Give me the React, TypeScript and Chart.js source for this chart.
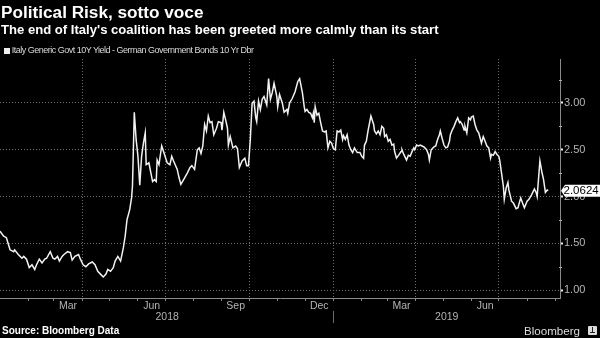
import React, { useEffect, useRef } from 'react';
import { Chart, registerables } from 'chart.js';

Chart.register(...registerables);

// x values: days since 1 Jan 2018
const days = [
  0, 4, 7, 11, 15, 16, 20, 24, 26, 29, 32, 35, 38, 40, 43, 46, 49, 51, 55, 58,
  60, 63, 65, 68, 70, 74, 77, 79, 82, 86, 88, 91, 94, 97, 101, 104, 107, 110, 113, 116,
  118, 121, 124, 126, 129, 132, 135, 137, 139, 142, 144, 145,
  147, 149, 151, 153, 155, 157, 159, 160, 163, 164, 167, 169, 171, 172, 174, 177, 179, 183, 186, 188,
  190, 194, 196, 198, 201, 205, 208, 210, 213, 216, 218, 220, 222, 224, 226, 228, 230, 232, 234, 237,
  239, 242, 243, 245, 247, 249, 250, 252, 255, 258, 260, 262, 265, 268, 270, 272, 274, 276, 278, 280,
  281, 283, 285, 287, 289, 292, 294, 296, 298, 300, 303, 304, 306, 309, 311, 314, 315, 317, 320, 323,
  326, 328,
  331, 333, 334, 336, 338, 340, 342, 343, 344, 345, 347, 349, 351, 353, 355, 357, 359, 361, 363, 365,
  367, 369, 371, 373, 375, 376, 378, 380, 382, 384, 386, 388, 391, 394, 396, 398, 399, 401, 403, 406,
  409, 410, 412, 414, 416, 418, 420, 421, 423, 425, 427, 429, 431, 432, 434, 437, 439, 440, 442, 445,
  447, 449, 451, 453, 454, 456, 458, 460, 462, 464, 467, 469, 470, 472, 475, 477, 479, 481, 482, 484,
  486, 488, 490, 492, 493, 495, 497, 499, 501, 503, 504, 506, 508, 509, 511, 513, 515, 516, 518, 520,
  522, 524, 526, 527, 529, 531, 533, 535, 537, 538, 540, 542, 544, 546, 547, 549, 551, 552, 554, 556,
  557, 560, 562, 565, 567, 570, 572, 574, 577, 579, 582, 585, 587, 588, 591, 593, 595, 597, 599, 600,
];

// Italy 10Y - Bund 10Y spread, percentage points
const spread = [
  1.63, 1.575, 1.56, 1.43, 1.41, 1.43, 1.38, 1.34, 1.36, 1.33, 1.24, 1.27, 1.22, 1.27, 1.33, 1.29, 1.33, 1.34, 1.41, 1.34,
  1.33, 1.36, 1.31, 1.36, 1.38, 1.41, 1.40, 1.32, 1.36, 1.38, 1.33, 1.27, 1.25, 1.28, 1.30, 1.27, 1.20, 1.17, 1.14, 1.17,
  1.22, 1.20, 1.24, 1.31, 1.36, 1.31, 1.45, 1.575, 1.75, 1.86, 1.985, 2.11,
  2.90, 2.61, 2.43, 2.12, 2.43, 2.57, 2.68, 2.34, 2.36, 2.31, 2.16, 2.18, 2.16, 2.39, 2.34, 2.54, 2.48, 2.36, 2.34, 2.43,
  2.38, 2.29, 2.20, 2.13, 2.18, 2.25, 2.31, 2.33, 2.29, 2.50, 2.52, 2.46, 2.54, 2.77, 2.70, 2.86, 2.79, 2.80, 2.66, 2.73,
  2.80, 2.79, 2.71, 2.90, 2.82, 2.73, 2.55, 2.64, 2.52, 2.54, 2.51, 2.31, 2.38, 2.41, 2.33, 2.33, 2.61, 3.00, 3.02, 2.84,
  2.80, 3.02, 2.93, 3.04, 3.07, 2.98, 3.26, 3.04, 3.11, 3.21, 3.07, 2.96, 3.09, 3.00, 2.90, 2.93, 2.89, 3.00, 3.05, 3.12,
  3.23, 3.26,
  3.11, 2.96, 2.91, 2.93, 2.90, 2.89, 2.84, 2.89, 2.79, 2.96, 2.87, 2.89, 2.79, 2.70, 2.69, 2.70, 2.52, 2.59, 2.57, 2.51,
  2.50, 2.70, 2.69, 2.71, 2.61, 2.65, 2.61, 2.66, 2.55, 2.50, 2.47, 2.52, 2.47, 2.47, 2.43, 2.41, 2.55, 2.59, 2.71, 2.86,
  2.77, 2.70, 2.67, 2.70, 2.66, 2.75, 2.73, 2.64, 2.66, 2.59, 2.61, 2.55, 2.56, 2.48, 2.41, 2.45, 2.48, 2.50, 2.45, 2.39,
  2.44, 2.43, 2.48, 2.52, 2.50, 2.55, 2.54, 2.55, 2.54, 2.53, 2.50, 2.45, 2.39, 2.50, 2.53, 2.54, 2.61, 2.66, 2.70, 2.62,
  2.55, 2.52, 2.53, 2.59, 2.66, 2.71, 2.75, 2.80, 2.84, 2.79, 2.80, 2.77, 2.71, 2.75, 2.68, 2.84, 2.82, 2.85, 2.86, 2.77,
  2.71, 2.68, 2.61, 2.57, 2.64, 2.59, 2.54, 2.52, 2.41, 2.45, 2.44, 2.48, 2.45, 2.43, 2.39, 2.25, 2.11, 1.97, 2.09, 2.15,
  2.07, 1.95, 1.93, 1.87, 1.88, 1.985, 1.93, 1.88, 1.95, 1.97, 2.02, 2.08, 2.04, 2.00, 2.38, 2.27, 2.18, 2.045, 2.07, 2.0624,
];

const lastValueLabel = '2.0624';
const seriesName = 'Italy Generic Govt 10Y Yield - German Government Bonds 10 Yr Dbr';

const monthStarts = [31, 59, 90, 120, 151, 181, 212, 243, 273, 304, 334, 365, 396, 424, 455, 485, 516, 546, 577, 608];
const quarterStarts = [90, 181, 273, 365, 455, 546];
const monthLabelDays = [74.5, 166, 258, 349.5, 439.5, 531];
const monthLabels = ['Mar', 'Jun', 'Sep', 'Dec', 'Mar', 'Jun'];
const yearLabelDays = [183, 489];
const yearLabels = ['2018', '2019'];
const yearBoundaryDays = [365];

const yMajorTicks = [1, 1.5, 2, 2.5, 3];
const yMinorTicks = [1.25, 1.75, 2.25, 2.75, 3.25];

const FONT = '"Liberation Sans", Arial, Helvetica, sans-serif';
const GRID = '#6e6e6e';

const overlayPlugin = {
  id: 'overlay',
  afterDraw(chart: any) {
    const { ctx, chartArea } = chart;
    const x = chart.scales.x;
    const y = chart.scales.y;
    ctx.save();
    ctx.strokeStyle = '#6a6a6a';
    ctx.lineWidth = 1;
    yearBoundaryDays.forEach((d) => {
      const px = Math.round(x.getPixelForValue(d)) + 0.5;
      ctx.beginPath();
      ctx.moveTo(px, chartArea.bottom + 13);
      ctx.lineTo(px, chartArea.bottom + 25);
      ctx.stroke();
    });
    // minor y ticks
    ctx.strokeStyle = '#aaaaaa';
    yMinorTicks.forEach((v) => {
      const py = Math.round(y.getPixelForValue(v)) + 0.5;
      ctx.beginPath();
      ctx.moveTo(chartArea.right - 1, py);
      ctx.lineTo(chartArea.right + 2, py);
      ctx.stroke();
    });
    // last value tag
    const v = spread[spread.length - 1];
    const py = y.getPixelForValue(v);
    const left = chartArea.right + 1;
    ctx.fillStyle = '#ffffff';
    ctx.beginPath();
    ctx.moveTo(left, py);
    ctx.lineTo(left + 4, py - 6);
    ctx.lineTo(600, py - 6);
    ctx.lineTo(600, py + 6);
    ctx.lineTo(left + 4, py + 6);
    ctx.closePath();
    ctx.fill();
    ctx.fillStyle = '#000000';
    ctx.font = `11.5px ${FONT}`;
    ctx.textBaseline = 'middle';
    ctx.textAlign = 'left';
    ctx.fillText(lastValueLabel, left + 2.5, py + 0.5);
    ctx.restore();
  },
};

export default function App() {
  const ref = useRef<HTMLCanvasElement | null>(null);

  useEffect(() => {
    document.body.style.margin = '0';
    document.body.style.background = '#000';
    const canvas = ref.current;
    if (!canvas) return;
    const xTickValues = [...monthStarts, ...monthLabelDays, ...yearLabelDays].sort((a, b) => a - b);
    const yTickValues = [...yMajorTicks, ...yMinorTicks].sort((a, b) => a - b);

    const chart = new Chart(canvas, {
      type: 'line',
      data: {
        datasets: [
          {
            label: seriesName,
            data: days.map((d, i) => ({ x: d, y: spread[i] })),
            borderColor: '#f2f2f2',
            borderWidth: 1.5,
            pointRadius: 0,
            tension: 0,
            fill: false,
          },
        ],
      },
      options: {
        animation: false,
        responsive: false,
        devicePixelRatio: 1,
        events: [],
        layout: { padding: { top: 59, left: 0, right: 0, bottom: 0 } },
        plugins: { legend: { display: false }, tooltip: { enabled: false }, title: { display: false } },
        scales: {
          x: {
            type: 'linear',
            min: 0,
            max: 613,
            afterBuildTicks: (scale: any) => {
              scale.ticks = xTickValues.map((v) => ({ value: v }));
            },
            afterFit: (scale: any) => {
              scale.height = 40;
            },
            border: { display: true, color: '#8a8a8a', width: 1, dash: [1, 2] },
            grid: {
              drawOnChartArea: true,
              drawTicks: true,
              tickLength: 3,
              color: (c: any) => (c.tick && quarterStarts.includes(c.tick.value) ? GRID : 'rgba(0,0,0,0)'),
              tickColor: (c: any) => (c.tick && monthStarts.includes(c.tick.value) ? '#8a8a8a' : 'rgba(0,0,0,0)'),
            },
            ticks: {
              autoSkip: false,
              maxRotation: 0,
              minRotation: 0,
              padding: 0,
              color: '#b4b4b4',
              font: { family: FONT, size: 10.5, lineHeight: 1 },
              callback: (value: any) => {
                const mi = monthLabelDays.indexOf(value);
                if (mi >= 0) return monthLabels[mi];
                const yi = yearLabelDays.indexOf(value);
                if (yi >= 0) return ['', yearLabels[yi]];
                return '';
              },
            },
          },
          y: {
            type: 'linear',
            position: 'right',
            min: 0.915,
            max: 3.47,
            afterBuildTicks: (scale: any) => {
              scale.ticks = yTickValues.map((v) => ({ value: v }));
            },
            afterFit: (scale: any) => {
              scale.width = 40;
            },
            border: { display: true, color: '#8a8a8a', width: 1, dash: [1, 2] },
            grid: {
              drawOnChartArea: true,
              drawTicks: true,
              tickLength: 3,
              tickWidth: (c: any) => (c.tick && yMajorTicks.includes(c.tick.value) ? 2 : 0),
              color: (c: any) => (c.tick && yMajorTicks.includes(c.tick.value) ? GRID : 'rgba(0,0,0,0)'),
              tickColor: (c: any) => (c.tick && yMajorTicks.includes(c.tick.value) ? '#eeeeee' : 'rgba(0,0,0,0)'),
            },
            ticks: {
              autoSkip: false,
              padding: 1,
              color: '#b4b4b4',
              font: { family: FONT, size: 11 },
              callback: (value: any) => (yMajorTicks.includes(value) ? Number(value).toFixed(2) : ''),
            },
          },
        },
      },
      plugins: [overlayPlugin],
    } as any);
    return () => chart.destroy();
  }, []);

  const abs: React.CSSProperties = { position: 'absolute', whiteSpace: 'nowrap', lineHeight: 1 };

  return (
    <div
      style={{
        position: 'fixed',
        left: 0,
        top: 0,
        width: 600,
        height: 338,
        background: '#000',
        overflow: 'hidden',
        fontFamily: FONT,
      }}
    >
      <canvas ref={ref} width={600} height={338} style={{ position: 'absolute', left: 0, top: 0 }} />
      <div style={{ ...abs, left: 1, top: 3.6, fontSize: 17.2, fontWeight: 700, color: '#fff' }}>
        Political Risk, sotto voce
      </div>
      <div style={{ ...abs, left: 1, top: 22.8, fontSize: 13.1, fontWeight: 700, color: '#fff' }}>
        The end of Italy's coalition has been greeted more calmly than its start
      </div>
      <div style={{ ...abs, left: 4, top: 48, width: 5.5, height: 5.5, background: '#eee' }} />
      <div style={{ ...abs, left: 11.7, top: 46.1, fontSize: 9, letterSpacing: -0.5, color: '#d8d8d8' }}>
        {seriesName}
      </div>
      <div style={{ ...abs, left: 2, top: 326, fontSize: 10, fontWeight: 700, color: '#fff' }}>
        Source: Bloomberg Data
      </div>
      <div style={{ ...abs, left: 524, top: 324.5, fontSize: 11.6, color: '#dcdcdc' }}>Bloomberg</div>
      <div
        style={{
          ...abs,
          left: 588,
          top: 326,
          width: 9,
          height: 9,
          background: '#dcdcdc',
          borderRadius: 1,
        }}
      >
        <div style={{ position: 'absolute', left: 4, top: 1, width: 1, height: 6, background: '#222' }} />
        <div style={{ position: 'absolute', left: 2, top: 6, width: 5, height: 1, background: '#222' }} />
      </div>
    </div>
  );
}
